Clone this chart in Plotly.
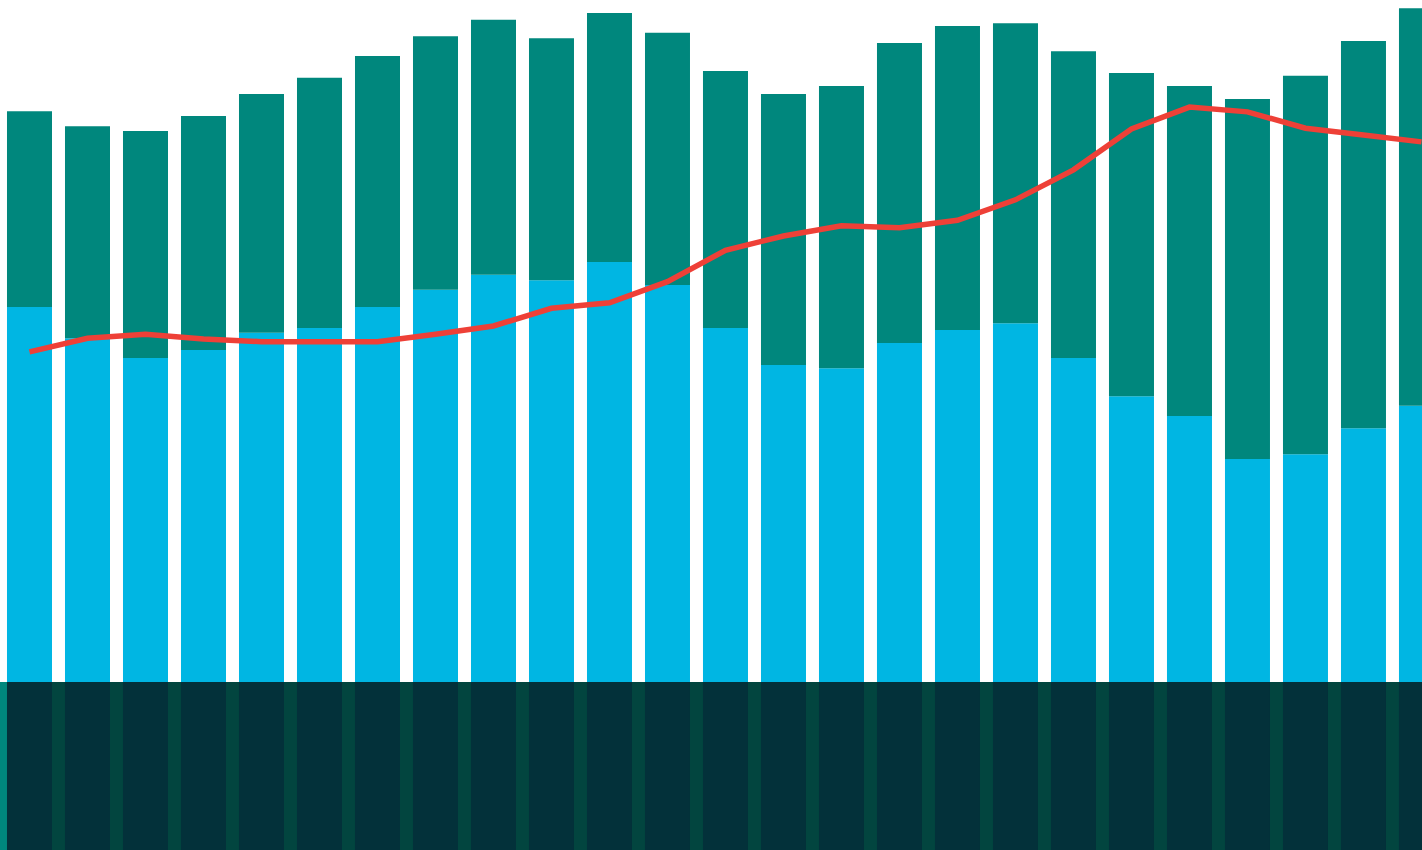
import plotly.graph_objects as go

categories = list(range(25))

# lower (cyan) segment
cyan_values = [55.0, 50.4, 47.5, 48.7, 51.2, 51.9, 55.0, 57.5, 59.7, 58.9, 61.6, 58.2, 51.9,
               46.5, 46.0, 49.7, 51.6, 52.6, 47.5, 41.9, 39.0, 32.7, 33.4, 37.2, 40.5]
# upper (teal) segment
teal_values = [28.7, 31.1, 33.3, 34.3, 35.0, 36.7, 36.8, 37.2, 37.4, 35.5, 36.5, 37.0, 37.7,
               39.7, 41.4, 44.0, 44.6, 44.0, 45.0, 47.4, 48.4, 52.8, 55.5, 56.8, 58.3]
# negative (dark) segment
dark_values = [-30.0] * 25
# red line
line_values = [48.4, 50.4, 51.0, 50.3, 49.9, 49.9, 49.9, 51.0, 52.2, 54.8, 55.6, 58.7, 63.3,
               65.4, 66.9, 66.6, 67.7, 70.7, 75.1, 81.1, 84.3, 83.6, 81.2, 80.2, 79.2]

fig = go.Figure()
fig.add_trace(go.Bar(x=categories, y=cyan_values, marker=dict(color="#00B6E3", line=dict(width=0))))
fig.add_trace(go.Bar(x=categories, y=teal_values, marker=dict(color="#00877D", line=dict(width=0))))
fig.add_trace(go.Bar(x=categories, y=dark_values, marker=dict(color="#03313A", line=dict(width=0))))
fig.add_trace(go.Scatter(x=categories, y=line_values, mode="lines",
                         line=dict(color="#EE4037", width=5.5)))

fig.update_layout(
    width=1422, height=850,
    margin=dict(l=0, r=0, t=0, b=0, pad=0),
    paper_bgcolor="white", plot_bgcolor="white",
    barmode="relative", bargap=0.224,
    showlegend=False,
    xaxis=dict(range=[-0.5086, 24.009], visible=False, showgrid=False, zeroline=False),
    yaxis=dict(range=[-24.63, 100], visible=False, showgrid=False, zeroline=False),
    shapes=[
        dict(type="rect", xref="x", yref="y", x0=-1, x1=26, y0=-40, y1=0,
             fillcolor="#02453F", line=dict(width=0), layer="below"),
        dict(type="rect", xref="x", yref="y", x0=-1, x1=-0.35, y0=-40, y1=0,
             fillcolor="#00877D", line=dict(width=0), layer="below"),
    ],
)

fig.write_html("out.html")
